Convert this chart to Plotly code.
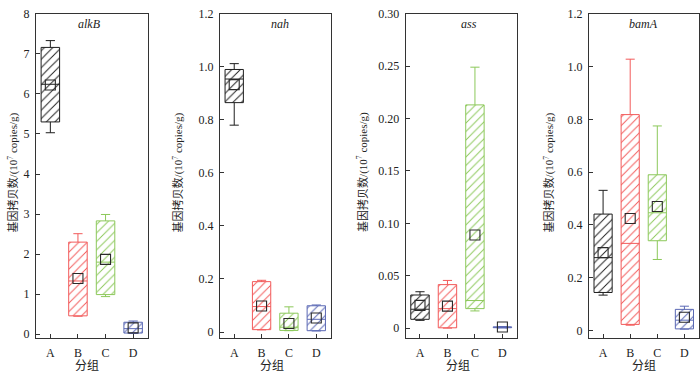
import plotly.graph_objects as go

groups = ["A", "B", "C", "D"]
colors = ["#1e1e1e", "#f25a5a", "#8cc85a", "#5a68b4"]

# alkB
alkB_min = [5.03, 0.45, 0.94, 0.02]
alkB_q1 = [5.30, 0.46, 0.99, 0.03]
alkB_med = [6.24, 1.33, 1.80, 0.14]
alkB_q3 = [7.16, 2.30, 2.83, 0.30]
alkB_max = [7.33, 2.51, 2.99, 0.33]
alkB_mean = [6.22, 1.39, 1.87, 0.16]

# nah
nah_min = [0.78, 0.008, 0.005, 0.004]
nah_q1 = [0.865, 0.009, 0.006, 0.005]
nah_med = [0.954, 0.096, 0.018, 0.048]
nah_q3 = [0.99, 0.19, 0.071, 0.099]
nah_max = [1.012, 0.195, 0.095, 0.102]
nah_mean = [0.933, 0.098, 0.032, 0.053]

# ass
ass_min = [0.0074, 0.0, 0.0164, 0.0002]
ass_q1 = [0.0084, 0.0003, 0.0186, 0.0004]
ass_med = [0.018, 0.0186, 0.0263, 0.0008]
ass_q3 = [0.0316, 0.0415, 0.213, 0.0012]
ass_max = [0.0347, 0.0455, 0.249, 0.0015]
ass_mean = [0.0217, 0.021, 0.0889, 0.001]

# bamA
bamA_min = [0.134, 0.02, 0.269, 0.005]
bamA_q1 = [0.144, 0.023, 0.340, 0.006]
bamA_med = [0.276, 0.330, 0.446, 0.039]
bamA_q3 = [0.441, 0.818, 0.590, 0.080]
bamA_max = [0.531, 1.028, 0.775, 0.092]
bamA_mean = [0.295, 0.424, 0.470, 0.050]

panel_names = ["alkB", "nah", "ass", "bamA"]
y_ranges = [[-0.09, 8.006], [-0.022, 1.201], [-0.0093, 0.3002], [-0.028, 1.201]]
y_tickvals = [[0, 1, 2, 3, 4, 5, 6, 7, 8],
              [0, 0.2, 0.4, 0.6, 0.8, 1.0, 1.2],
              [0, 0.05, 0.10, 0.15, 0.20, 0.25, 0.30],
              [0, 0.2, 0.4, 0.6, 0.8, 1.0, 1.2]]
y_ticktext = [["0", "1", "2", "3", "4", "5", "6", "7", "8"],
              ["0", "0.2", "0.4", "0.6", "0.8", "1.0", "1.2"],
              ["0", "0.05", "0.10", "0.15", "0.20", "0.25", "0.30"],
              ["0", "0.2", "0.4", "0.6", "0.8", "1.0", "1.2"]]

panels = [
    (alkB_min, alkB_q1, alkB_med, alkB_q3, alkB_max, alkB_mean),
    (nah_min, nah_q1, nah_med, nah_q3, nah_max, nah_mean),
    (ass_min, ass_q1, ass_med, ass_q3, ass_max, ass_mean),
    (bamA_min, bamA_q1, bamA_med, bamA_q3, bamA_max, bamA_mean),
]

W, H = 700, 372
x_px = [(36, 147.5), (220, 330.5), (405.7, 516.7), (589, 698.5)]
y_top, y_bot = 6.7, 340
ytitle_x = [13, 178, 362.5, 549]
xtitle_x = [87, 272, 458, 644]
ptitle_x = [89, 280, 469, 643]

serif = "Liberation Serif, Noto Sans CJK SC"
fig = go.Figure()
layout = dict(
    width=W, height=H, margin=dict(l=0, r=0, t=0, b=0),
    paper_bgcolor="white", plot_bgcolor="white", showlegend=False,
    barmode="overlay", boxmode="overlay",
    font=dict(family=serif, size=12, color="#222"),
)
annotations = []

for i, (mn, q1, med, q3, mx, mean) in enumerate(panels):
    xa = "x" if i == 0 else f"x{i+1}"
    ya = "y" if i == 0 else f"y{i+1}"
    heights = [b - a for a, b in zip(q1, q3)]
    fig.add_trace(go.Bar(
        x=groups, y=heights, base=q1, width=0.67,
        marker=dict(color=colors, line=dict(width=0),
                    pattern=dict(shape="/", size=6, solidity=0.16,
                                 bgcolor="white", fillmode="replace")),
        xaxis=xa, yaxis=ya, hoverinfo="skip"))
    for j, g in enumerate(groups):
        fig.add_trace(go.Box(
            x=[g], q1=[q1[j]], median=[med[j]], q3=[q3[j]],
            lowerfence=[mn[j]], upperfence=[mx[j]],
            width=0.67, whiskerwidth=0.5,
            fillcolor="rgba(0,0,0,0)", line=dict(color=colors[j], width=1),
            boxpoints=False, xaxis=xa, yaxis=ya))
    fig.add_trace(go.Scatter(
        x=groups, y=mean, mode="markers",
        marker=dict(symbol="square-open", size=10, color="#2a2a2a",
                    line=dict(width=1.1)),
        xaxis=xa, yaxis=ya))

    x0, x1 = x_px[i]
    axis_common = dict(showline=True, linecolor="#333", linewidth=1, mirror=True,
                       ticks="inside", ticklen=4, tickcolor="#333", showgrid=False,
                       zeroline=False, tickfont=dict(family=serif, size=12, color="#222"))
    layout["xaxis" if i == 0 else f"xaxis{i+1}"] = dict(
        domain=[x0 / W, x1 / W], anchor=ya, type="category",
        categoryorder="array", categoryarray=groups, range=[-0.52, 3.52],
        ticklabelstandoff=4, **axis_common)
    layout["yaxis" if i == 0 else f"yaxis{i+1}"] = dict(
        domain=[(H - y_bot) / H, (H - y_top) / H], anchor=xa,
        range=y_ranges[i], tickvals=y_tickvals[i], ticktext=y_ticktext[i],
        ticklabelstandoff=3, **axis_common)

    annotations.append(dict(
        text="基因拷贝数/(10<sup>7</sup> copies/g)", textangle=-90,
        x=ytitle_x[i] / W, y=(H - 170) / H, xref="paper", yref="paper",
        showarrow=False, xanchor="center", yanchor="middle",
        font=dict(family=serif, size=11, color="#222")))
    annotations.append(dict(
        text="分组", x=xtitle_x[i] / W, y=(H - 369) / H, xref="paper", yref="paper",
        showarrow=False, xanchor="center", yanchor="middle",
        font=dict(family=serif, size=12, color="#222")))
    annotations.append(dict(
        text="<i>" + panel_names[i] + "</i>", x=ptitle_x[i] / W, y=(H - 17) / H,
        xref="paper", yref="paper", showarrow=False, xanchor="center", yanchor="middle",
        font=dict(family=serif, size=12, color="#222")))

layout["annotations"] = annotations
fig.update_layout(**layout)
fig.write_html("out.html", config={"displayModeBar": False},
               post_script="document.body.style.margin='0';document.body.style.overflow='hidden';")
